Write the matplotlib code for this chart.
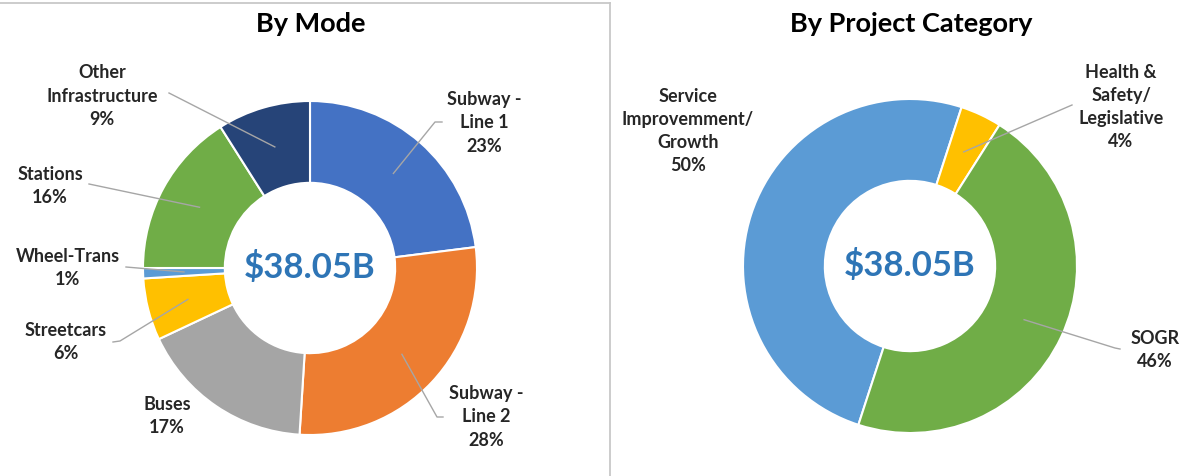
import numpy as np
import matplotlib.pyplot as plt

plt.rcParams['font.family'] = ['Lato', 'DejaVu Sans']

W, H = 1198, 476

total_label = '$38.05B'

mode_labels = ['Subway -\nLine 1', 'Subway -\nLine 2', 'Buses', 'Streetcars',
               'Wheel-Trans', 'Stations', 'Other\nInfrastructure']
mode_pct = [23, 28, 17, 6, 1, 16, 9]
mode_colors = ['#4472C4', '#ED7D31', '#A5A5A5', '#FFC000',
               '#5B9BD5', '#70AD47', '#264478']

cat_labels = ['Service\nImprovemment/\nGrowth', 'Health &\nSafety/\nLegislative', 'SOGR']
cat_pct = [50, 4, 46]
cat_colors = ['#5B9BD5', '#FFC000', '#70AD47']

# label centres and leader-line elbows, in pixels from the top-left corner
mode_text_pos = [(484, 123), (486, 417), (167, 416), (66, 342), (68, 268), (50, 186), (102, 96)]
mode_leaders = [[(442, 122), (435, 122)], [(443, 417), (437, 417)], None,
                [(113, 342), (120, 341)], [(126, 267)], [(89, 184)], [(169, 93)]]
cat_text_pos = [(688, 131), (1121, 107), (1155, 350)]
cat_leaders = [None, [(1072, 105)], [(1120, 349), (1115, 348)]]


def donut(ax, values, colors, labels, text_pos, leaders, cx, cy, r, start):
    cy = H - cy
    wedges, _ = ax.pie(values, colors=colors, startangle=start, counterclock=False,
                       radius=r, center=(cx, cy),
                       wedgeprops=dict(width=r * 0.49, edgecolor='white', linewidth=1.5))
    for w, lab, v, (tx, ty), lead in zip(wedges, labels, values, text_pos, leaders):
        ax.text(tx, H - ty, f'{lab}\n{v}%', ha='center', va='center', fontsize=13,
                fontweight='bold', color='#262626', linespacing=1.45)
        if lead:
            mid = np.deg2rad((w.theta1 + w.theta2) / 2)
            rm = r * 0.755
            xs = [p[0] for p in lead] + [cx + rm * np.cos(mid)]
            ys = [H - p[1] for p in lead] + [cy + rm * np.sin(mid)]
            ax.plot(xs, ys, color='#A6A6A6', lw=1)
    ax.text(cx, cy, total_label, ha='center', va='center', fontsize=25,
            fontweight='bold', color='#2E75B6')


fig = plt.figure(figsize=(W / 100, H / 100), dpi=100)

ax1 = fig.add_axes([0, 0, 610 / W, 1])
donut(ax1, mode_pct, mode_colors, mode_labels, mode_text_pos, mode_leaders,
      310, 268, 167, 90)
ax1.set_aspect('auto')
ax1.set_xlim(0, 610)
ax1.set_ylim(0, H)
ax1.text(311, H - 24, 'By Mode', ha='center', va='center', fontsize=19.5,
         fontweight='bold', color='black')
# frame of the left panel
ax1.plot([0, 610], [H - 3, H - 3], color='#C8C8C8', lw=1.3, clip_on=False)
ax1.plot([610, 610], [0, H - 3], color='#C8C8C8', lw=1.3, clip_on=False)

ax2 = fig.add_axes([610 / W, 0, (W - 610) / W, 1])
donut(ax2, cat_pct, cat_colors, cat_labels, cat_text_pos, cat_leaders,
      910, 266, 167, 90 - 198)
ax2.set_aspect('auto')
ax2.set_xlim(610, W)
ax2.set_ylim(0, H)
ax2.text(911, H - 24, 'By Project Category', ha='center', va='center', fontsize=19.5,
         fontweight='bold', color='black')

fig.savefig('out.png', dpi=100)
